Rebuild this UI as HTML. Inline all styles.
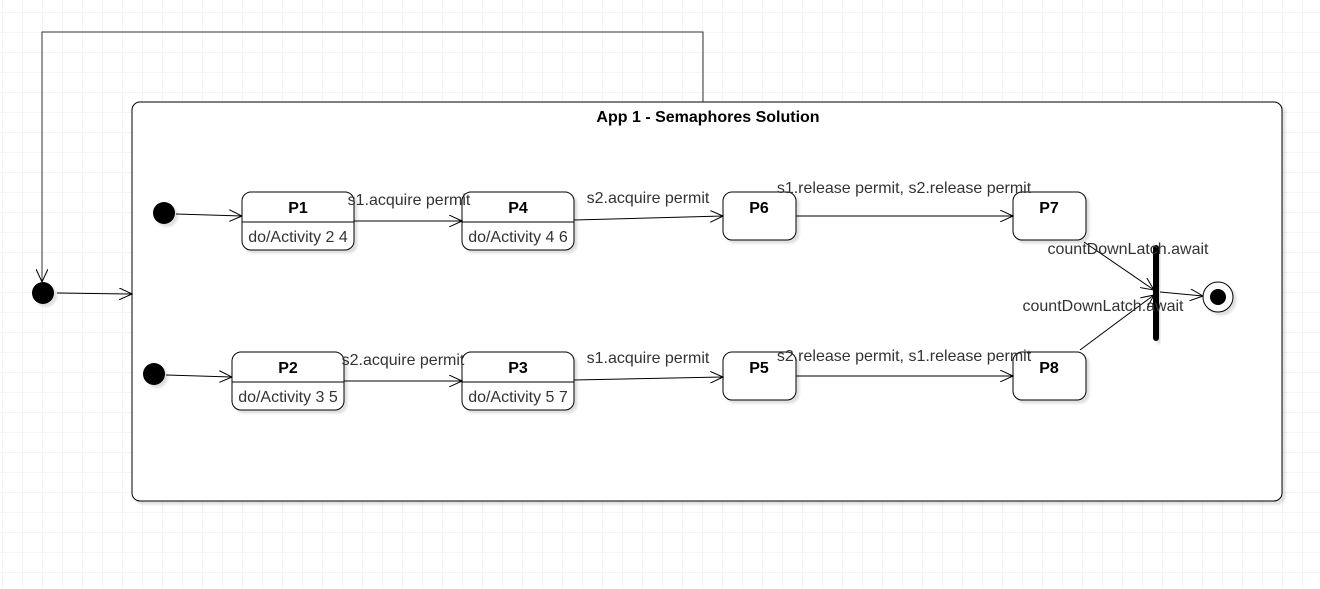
<!DOCTYPE html>
<html><head><meta charset="utf-8"><style>
html,body{margin:0;padding:0;background:#fff;}
svg{display:block;font-family:"Liberation Sans",Arial,sans-serif;}
</style></head><body>
<svg width="1320" height="589" viewBox="0 0 1320 589" xmlns="http://www.w3.org/2000/svg">
<defs>
<pattern id="g" x="2" y="12" width="20" height="20" patternUnits="userSpaceOnUse">
<path d="M0 0H20M0 0V20" stroke="#e8e8e8" stroke-width="1" fill="none"/>
</pattern>
<marker id="a" markerWidth="14" markerHeight="12" refX="13" refY="6" orient="auto" markerUnits="userSpaceOnUse">
<path d="M0 0L13 6L0 12" fill="none" stroke="#000" stroke-width="1"/>
</marker>
<filter id="s" x="-10%" y="-10%" width="130%" height="130%"><feDropShadow dx="3" dy="3" stdDeviation="1" flood-color="#000" flood-opacity="0.12"/></filter>
</defs>
<rect width="1320" height="589" fill="url(#g)"/>
<rect x="132" y="102" width="1150" height="399" rx="8" fill="#fff" stroke="#000" filter="url(#s)"/>
<text x="708" y="122" font-size="16" font-weight="bold" text-anchor="middle">App 1 - Semaphores Solution</text>
<path d="M703 102V32H42V282" fill="none" stroke="#333" marker-end="url(#a)"/>
<circle cx="43" cy="293" r="11" fill="#000" filter="url(#s)"/>
<line x1="57" y1="293" x2="132" y2="294" stroke="#000" marker-end="url(#a)"/>
<circle cx="164" cy="213" r="11" fill="#000" filter="url(#s)"/>
<circle cx="154" cy="374" r="11" fill="#000" filter="url(#s)"/>
<line x1="176" y1="214" x2="242" y2="216" stroke="#000" marker-end="url(#a)"/>
<line x1="166" y1="375" x2="232" y2="377" stroke="#000" marker-end="url(#a)"/>
<g fill="#fff" stroke="#000" filter="url(#s)">
<rect x="242" y="192" width="112" height="58" rx="9"/>
<rect x="462" y="192" width="112" height="58" rx="9"/>
<rect x="232" y="352" width="112" height="58" rx="9"/>
<rect x="462" y="352" width="112" height="58" rx="9"/>
<rect x="723" y="192" width="73" height="48" rx="9"/>
<rect x="1013" y="192" width="73" height="48" rx="9"/>
<rect x="723" y="352" width="73" height="48" rx="9"/>
<rect x="1013" y="352" width="73" height="48" rx="9"/>
</g>
<g stroke="#000"><line x1="242" y1="222" x2="354" y2="222"/><line x1="462" y1="222" x2="574" y2="222"/><line x1="232" y1="382" x2="344" y2="382"/><line x1="462" y1="382" x2="574" y2="382"/></g>
<g font-size="16" font-weight="bold" text-anchor="middle">
<text x="298" y="213">P1</text><text x="518" y="213">P4</text><text x="288" y="373">P2</text><text x="518" y="373">P3</text>
<text x="759" y="213">P6</text><text x="1049" y="213">P7</text><text x="759" y="373">P5</text><text x="1049" y="373">P8</text>
</g>
<g font-size="16" fill="#333" text-anchor="middle">
<text x="298" y="242">do/Activity 2 4</text><text x="518" y="242">do/Activity 4 6</text>
<text x="288" y="402">do/Activity 3 5</text><text x="518" y="402">do/Activity 5 7</text>
</g>
<g stroke="#000" fill="none" marker-end="url(#a)">
<line x1="354" y1="221" x2="462" y2="221"/>
<line x1="574" y1="220" x2="723" y2="216"/>
<line x1="796" y1="216" x2="1013" y2="216"/>
<line x1="344" y1="381" x2="462" y2="381"/>
<line x1="574" y1="380" x2="723" y2="377"/>
<line x1="796" y1="376" x2="1013" y2="376"/>
<line x1="1084" y1="242" x2="1154" y2="290"/>
<line x1="1080" y1="350" x2="1154" y2="295"/>
<line x1="1160" y1="292" x2="1203" y2="296"/>
</g>
<rect x="1153" y="245" width="6" height="96" rx="3" fill="#000" filter="url(#s)"/>
<circle cx="1218" cy="297" r="15" fill="#fff" stroke="#000" filter="url(#s)"/>
<circle cx="1218" cy="297" r="8" fill="#000"/>
<g font-size="16" fill="#333" text-anchor="middle">
<text x="409" y="205">s1.acquire permit</text>
<text x="648" y="203">s2.acquire permit</text>
<text x="904" y="193">s1.release permit, s2.release permit</text>
<text x="403" y="365">s2.acquire permit</text>
<text x="648" y="363">s1.acquire permit</text>
<text x="904" y="361">s2.release permit, s1.release permit</text>
<text x="1128" y="254">countDownLatch.await</text>
<text x="1103" y="311">countDownLatch.await</text>
</g>
</svg>
</body></html>
